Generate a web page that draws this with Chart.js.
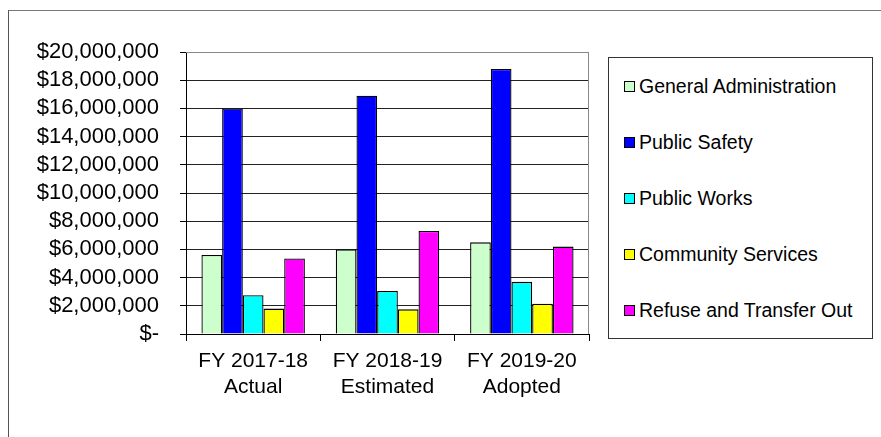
<!DOCTYPE html>
<html>
<head>
<meta charset="utf-8">
<script src="https://cdn.jsdelivr.net/npm/chart.js@4"></script>
<style>
  body { margin: 0; background: #fff; font-family: "Liberation Sans", Arial, sans-serif; }
  #wrap { position: relative; width: 881px; height: 437px; overflow: hidden; }
  #frame { position: absolute; left: 8px; top: 10px; width: 900px; height: 500px;
           border-left: 1px solid #555; border-top: 1px solid #777; }
  #chart { position: absolute; left: 0; top: 0; }
  #legend { position: absolute; left: 608px; top: 57px; width: 263px; height: 280px;
            border: 1px solid #333; background: #fff; }
  .item { position: absolute; left: 15px; height: 24px; line-height: 24px;
          font-size: 19.5px; color: #000; white-space: nowrap; }
  .sw { display: inline-block; width: 9px; height: 9px; border: 1px solid #000;
        margin-right: 4px; vertical-align: 1px; }
</style>
</head>
<body>
<div id="wrap">
  <div id="frame"></div>
  <canvas id="chart" width="881" height="437"></canvas>
  <div id="legend"></div>
</div>
<script>
const categories = [['FY 2017-18', 'Actual'], ['FY 2018-19', 'Estimated'], ['FY 2019-20', 'Adopted']];
const seriesNames = ['General Administration', 'Public Safety', 'Public Works', 'Community Services', 'Refuse and Transfer Out'];
const generalAdmin = [5600000, 6000000, 6500000];
const publicSafety = [16000000, 16900000, 18800000];
const publicWorks = [2750000, 3050000, 3700000];
const communityServices = [1800000, 1750000, 2150000];
const refuseTransfer = [5350000, 7300000, 6200000];
const colors = ['#ccffcc', '#0000ff', '#00ffff', '#ffff00', '#ff00ff'];
const yMax = 20000000;
const yStep = 2000000;

const values = [generalAdmin, publicSafety, publicWorks, communityServices, refuseTransfer];
const fontFamily = '"Liberation Sans", Arial, sans-serif';

// gray border round the plot area (top and right)
const plotBorder = {
    id: 'plotBorder',
    afterDraw(chart) {
        const { ctx, chartArea: a } = chart;
        ctx.save();
        ctx.strokeStyle = '#888';
        ctx.lineWidth = 1;
        ctx.beginPath();
        ctx.moveTo(a.left, a.top + 0.5);
        ctx.lineTo(a.right - 0.5, a.top + 0.5);
        ctx.lineTo(a.right - 0.5, a.bottom);
        ctx.stroke();
        ctx.restore();
    }
};

new Chart(document.getElementById('chart'), {
    type: 'bar',
    data: {
        labels: categories,
        datasets: seriesNames.map((name, i) => ({
            label: name,
            data: values[i],
            backgroundColor: colors[i],
            borderColor: '#000',
            borderWidth: 1.3,
            categoryPercentage: 0.77,
            barPercentage: 1
        }))
    },
    options: {
        responsive: false, animation: false,
        layout: { padding: { top: 52, right: 292, bottom: 0, left: 0 } },
        plugins: { legend: { display: false }, tooltip: { enabled: false } },
        scales: {
            y: {
                min: 0, max: yMax,
                afterFit: s => { s.width = 186; },
                border: { display: true, color: '#000', width: 1 },
                grid: {
                    color: c => (c.tick && c.tick.value === yMax ? '#888' : '#222'),
                    lineWidth: 1, tickLength: 6, tickColor: '#000'
                },
                ticks: {
                    stepSize: yStep, autoSkip: false, color: '#000',
                    font: { family: fontFamily, size: 22 }, padding: 21,
                    callback: v => (v === 0 ? '$-' : '$' + v.toLocaleString('en-US'))
                }
            },
            x: {
                afterFit: s => { s.height = 103; },
                border: { display: true, color: '#000', width: 1 },
                grid: { offset: true, drawOnChartArea: false, tickLength: 7, color: '#000' },
                ticks: { color: '#000', font: { family: fontFamily, size: 21 }, padding: 8, maxRotation: 0 }
            }
        }
    },
    plugins: [plotBorder]
});

const legend = document.getElementById('legend');
seriesNames.forEach((name, i) => {
    const item = document.createElement('div');
    item.className = 'item';
    item.style.top = (16 + i * 56) + 'px';
    item.innerHTML = '<span class="sw" style="background:' + colors[i] + '"></span>' + name;
    legend.appendChild(item);
});
</script>
</body>
</html>
